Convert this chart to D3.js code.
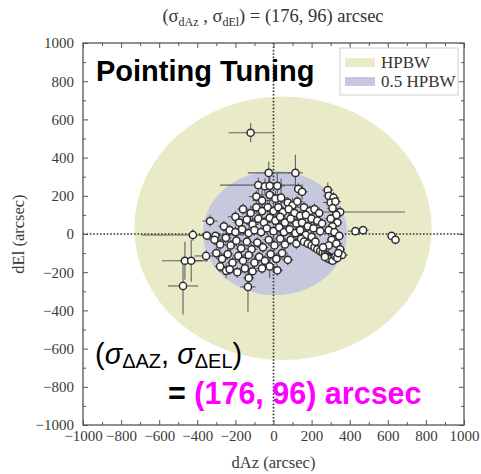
<!DOCTYPE html>
<html><head><meta charset="utf-8">
<script src="https://cdn.jsdelivr.net/npm/d3@7"></script>
<style>body{margin:0;background:#fff}svg{display:block}</style>
</head><body>
<svg id="c" width="481" height="474"></svg>
<script>
// ---- data ----
const xTicks = [-1000,-800,-600,-400,-200,0,200,400,600,800,1000];
const yTicks = [-1000,-800,-600,-400,-200,0,200,400,600,800,1000];
const legendLabels = ["HPBW", "0.5 HPBW"];
// beam ellipses: [cx, cy, rx, ry] in arcsec
const hpbwEllipse = [50, 30, 780, 690];
const halfHpbwEllipse = [8, 5, 378, 325];
// pointing offsets: dAz, dEl, err dAz, err dEl (arcsec)
const dAz = [-120,-25,115,-80,-333,-423,-350,-305,-465,-432,-475,-354,-249,-134,430,470,620,640,
 -45,-20,20,130,150,-90,-60,-20,10,40,75,100,125,160,190,215,240,
 285,290,315,300,325,310,350,330,300,335,310,290,320,345,305,330,290,350,360,
 -160,-120,-90,-60,-30,0,25,50,80,110,140,170,200,230,255,-200,-180,-140,-110,-80,-50,-20,10,35,60,90,120,150,180,210,245,
 -260,-230,-200,-165,-130,-100,-65,-35,0,30,55,85,115,140,170,200,
 -310,-280,-250,-225,-195,-170,-140,-115,-85,-55,-25,5,35,60,90,120,145,
 -300,-270,-240,-215,-185,-160,-130,-100,-75,-45,-15,15,45,75,-280,-230,-190,-150,-110,-60,-20,20,-130,
 160,180,200,215,230,245,258,270,280,290,298,306,314,322,300,285,310,325,270,335,340,220,260];
const dEl = [530,320,320,256,68,-5,-8,-10,-140,-140,-272,-115,-193,-277,15,20,-10,-30,
 250,252,252,236,221,196,175,205,185,190,165,150,170,140,120,130,110,
 230,200,190,165,170,135,115,100,80,60,40,20,10,-10,-30,-50,-60,-80,-110,
 130,110,140,120,140,120,140,115,130,110,95,100,80,70,55,90,60,75,50,80,60,85,70,90,60,80,55,60,40,30,15,
 40,20,10,25,5,20,10,30,15,35,10,25,5,20,-5,-15,
 -30,-55,-20,-60,-35,-75,-40,-80,-45,-70,-30,-60,-25,-55,-30,-50,-25,
 -100,-130,-105,-150,-115,-140,-110,-150,-120,-140,-105,-130,-100,-135,-170,-185,-200,-180,-195,-180,-170,-190,-230,
 -40,-50,-60,-70,-80,-90,-98,-105,-112,-118,-122,-126,-128,-130,-135,-128,-140,-118,-120,-125,-100,-40,-70];
const errAz = [115,110,40,200,40,270,40,40,120,60,80,60,40,40,40,30,20,20,
 30,20,40,20,30,40,50,60,30,30,40,30,30,40,30,25,20,
 30,30,30,40,30,30,340,25,30,25,30,30,30,25,25,30,30,25,30,
 30,40,30,40,60,30,30,30,40,30,30,30,30,30,20,40,30,40,30,30,40,30,30,30,30,30,30,30,30,30,30,
 30,40,30,30,30,40,30,30,30,30,30,30,30,30,30,30,
 40,30,30,30,30,30,30,30,30,30,30,30,30,30,30,30,30,
 30,30,30,30,30,30,30,30,30,30,30,30,30,30,30,30,30,30,30,30,30,30,30,
 20,20,20,20,20,20,20,20,15,15,15,15,15,15,15,15,15,15,15,15,20,20,20];
const errEl = [50,60,95,40,30,30,20,20,100,110,150,30,40,130,20,20,20,25,
 40,80,70,30,40,30,60,80,40,100,30,40,30,30,30,30,30,
 40,30,30,30,40,30,30,30,25,25,30,30,25,25,25,30,30,25,20,
 30,40,30,50,40,30,40,30,30,30,30,20,30,30,30,30,30,30,40,30,30,30,30,30,30,30,30,30,30,30,30,
 30,30,30,30,30,30,30,30,30,30,30,30,30,30,30,30,
 30,30,30,30,30,30,30,30,30,30,30,30,30,30,30,30,30,
 30,30,30,30,30,30,30,30,30,30,30,30,30,30,30,30,30,30,30,30,60,30,30,
 15,15,15,15,15,15,15,15,15,15,15,15,15,15,15,15,15,15,15,15,20,20,20];

// ---- chart ----
const svg = d3.select("#c");
const L = 83, R = 464, T = 43, B = 425;
const x = d3.scaleLinear().domain([-1000,1000]).range([L,R]);
const y = d3.scaleLinear().domain([-1000,1000]).range([B,T]);
const serif = "'Liberation Serif','DejaVu Serif',serif";
const sans = "'Liberation Sans',Arial,sans-serif";

const plot = svg.append("g");
plot.append("defs").append("clipPath").attr("id","clip")
  .append("rect").attr("x",L).attr("y",T).attr("width",R-L).attr("height",B-T);
const inner = plot.append("g").attr("clip-path","url(#clip)");

function ell(e, fill){
  inner.append("ellipse")
    .attr("cx", x(e[0])).attr("cy", y(e[1]))
    .attr("rx", x(e[0]+e[2]) - x(e[0])).attr("ry", y(e[1]) - y(e[1]+e[3]))
    .attr("fill", fill);
}
const yellow = "#e9eac8", lav = "#c6c8dd";
ell(hpbwEllipse, yellow);
ell(halfHpbwEllipse, lav);

// dotted zero lines
inner.append("line").attr("x1",L).attr("x2",R).attr("y1",y(0)).attr("y2",y(0))
  .attr("stroke","#333").attr("stroke-width",1.6).attr("stroke-dasharray","1.6,1.8");
inner.append("line").attr("y1",T).attr("y2",B).attr("x1",x(0)).attr("x2",x(0))
  .attr("stroke","#333").attr("stroke-width",1.6).attr("stroke-dasharray","1.6,1.8");

const pts = dAz.map((d,i)=>({x:d, y:dEl[i], ex:errAz[i], ey:errEl[i]}));
const eb = inner.append("g").attr("stroke","#4a4a4a").attr("stroke-width",1.1).attr("stroke-opacity",0.85);
eb.selectAll(".h").data(pts).join("line")
  .attr("x1",d=>x(d.x-d.ex)).attr("x2",d=>x(d.x+d.ex)).attr("y1",d=>y(d.y)).attr("y2",d=>y(d.y));
eb.selectAll(".v").data(pts).join("line")
  .attr("x1",d=>x(d.x)).attr("x2",d=>x(d.x)).attr("y1",d=>y(d.y-d.ey)).attr("y2",d=>y(d.y+d.ey));
inner.append("g").selectAll("circle").data(pts).join("circle")
  .attr("cx",d=>x(d.x)).attr("cy",d=>y(d.y)).attr("r",3.6)
  .attr("fill","#fff").attr("stroke","#2e2e2e").attr("stroke-width",1.5);

// axes
const minor = d3.range(-900,1000,200);
function axisStyle(g){
  g.select(".domain").remove();
  g.selectAll(".tick line").attr("stroke","#555").attr("stroke-width",1);
  g.selectAll(".tick text").attr("font-family",serif).attr("font-size",15).attr("fill","#3a3a3a");
}
svg.append("g").attr("transform",`translate(0,${B})`)
  .call(d3.axisBottom(x).tickValues(xTicks).tickSize(-5).tickPadding(5).tickFormat(d=>d<0?"\u2212"+(-d):d))
  .call(axisStyle);
svg.append("g").attr("transform",`translate(0,${B})`)
  .call(d3.axisBottom(x).tickValues(minor).tickSize(-3).tickFormat(""))
  .call(axisStyle);
svg.append("g").attr("transform",`translate(0,${T})`)
  .call(d3.axisTop(x).tickValues(xTicks).tickSize(-5).tickFormat(""))
  .call(axisStyle);
svg.append("g").attr("transform",`translate(0,${T})`)
  .call(d3.axisTop(x).tickValues(minor).tickSize(-3).tickFormat(""))
  .call(axisStyle);
svg.append("g").attr("transform",`translate(${L},0)`)
  .call(d3.axisLeft(y).tickValues(yTicks).tickSize(-5).tickPadding(9).tickFormat(d=>d<0?"\u2212"+(-d):d))
  .call(axisStyle);
svg.append("g").attr("transform",`translate(${L},0)`)
  .call(d3.axisLeft(y).tickValues(minor).tickSize(-3).tickFormat(""))
  .call(axisStyle);
svg.append("g").attr("transform",`translate(${R},0)`)
  .call(d3.axisRight(y).tickValues(yTicks).tickSize(-5).tickFormat(""))
  .call(axisStyle);
svg.append("g").attr("transform",`translate(${R},0)`)
  .call(d3.axisRight(y).tickValues(minor).tickSize(-3).tickFormat(""))
  .call(axisStyle);
svg.append("rect").attr("x",L).attr("y",T).attr("width",R-L).attr("height",B-T)
  .attr("fill","none").attr("stroke","#555").attr("stroke-width",1.3);

// axis labels
svg.append("text").attr("x",(L+R)/2).attr("y",468).attr("text-anchor","middle")
  .attr("font-family",serif).attr("font-size",16.5).attr("fill","#3a3a3a").text("dAz (arcsec)");
svg.append("text").attr("transform",`translate(24,${(T+B)/2}) rotate(-90)`).attr("text-anchor","middle")
  .attr("font-family",serif).attr("font-size",16.5).attr("fill","#3a3a3a").text("dEl (arcsec)");

// title
const t = svg.append("text").attr("x",273).attr("y",22).attr("text-anchor","middle")
  .attr("font-family",serif).attr("font-size",18.5).attr("fill","#333");
t.append("tspan").text("(\u03c3");
t.append("tspan").attr("font-size",12).attr("dy",4).text("dAz");
t.append("tspan").attr("dy",-4).text(" , \u03c3");
t.append("tspan").attr("font-size",12).attr("dy",4).text("dEl");
t.append("tspan").attr("dy",-4).text(") = (176, 96) arcsec");

// legend
const lg = svg.append("g");
lg.append("rect").attr("x",340).attr("y",48).attr("width",118).attr("height",47)
  .attr("fill","#fff").attr("stroke","#d0d0d0").attr("stroke-width",1);
[yellow, lav].forEach((c,i)=>{
  lg.append("rect").attr("x",345).attr("y",58+i*19).attr("width",30).attr("height",9).attr("fill",c);
  lg.append("text").attr("x",381).attr("y",68+i*19).attr("font-family",serif).attr("font-size",17)
    .attr("fill","#333").text(legendLabels[i]);
});

// annotations
svg.append("text").attr("x",96).attr("y",81).attr("font-family",sans).attr("font-weight","bold")
  .attr("font-size",29).attr("fill","#000").text("Pointing Tuning");
const s = svg.append("text").attr("x",95).attr("y",364).attr("font-family",sans).attr("font-size",29).attr("fill","#000");
s.append("tspan").text("(");
s.append("tspan").attr("font-style","italic").text("\u03c3");
s.append("tspan").attr("font-size",20).attr("dy",4).text("\u0394AZ");
s.append("tspan").attr("dy",-4).text(", ");
s.append("tspan").attr("font-style","italic").text("\u03c3");
s.append("tspan").attr("font-size",20).attr("dy",4).text("\u0394EL");
s.append("tspan").attr("dy",-4).text(")");
const e = svg.append("text").attr("x",168).attr("y",404).attr("font-family",sans).attr("font-weight","bold").attr("font-size",30.5);
e.append("tspan").attr("fill","#000").text("= ");
e.append("tspan").attr("fill","#ff00ff").text("(176, 96) arcsec");
</script>
</body></html>
